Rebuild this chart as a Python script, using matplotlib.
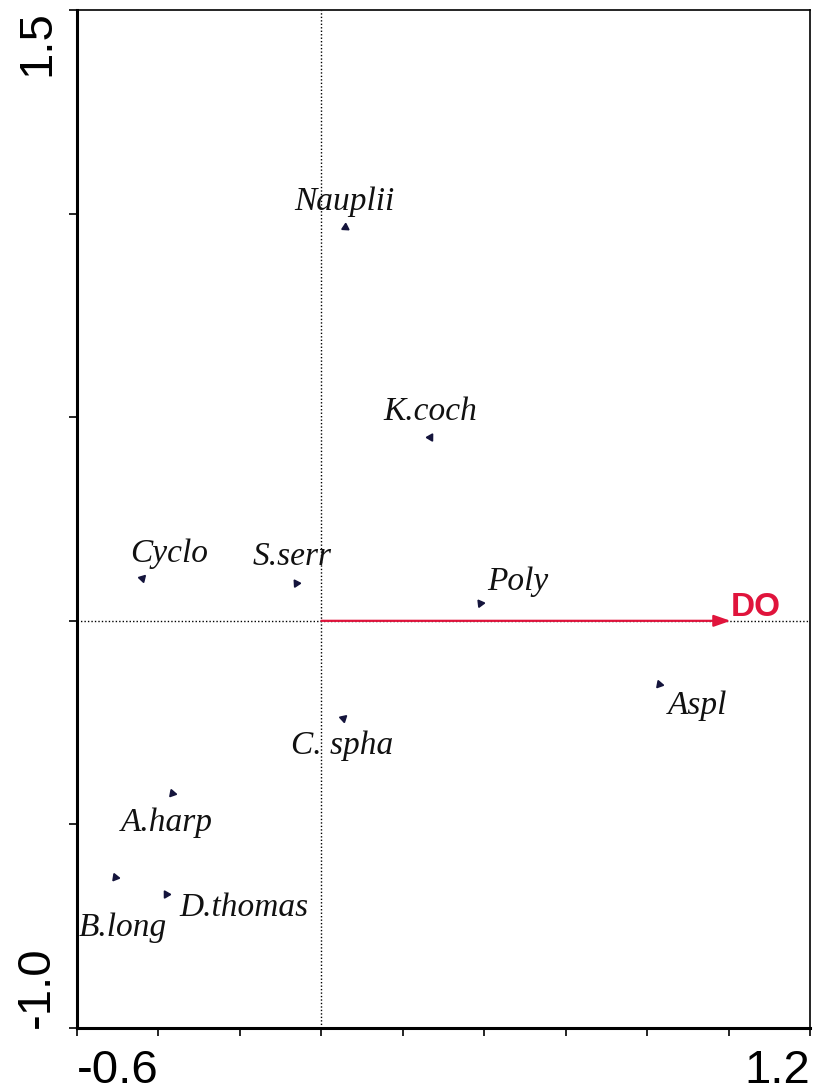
import numpy as np
import matplotlib.pyplot as plt

# Species scores on the first two axes
species = ["Nauplii", "K.coch", "Cyclo", "S.serr", "Poly", "Aspl",
           "C. spha", "A.harp", "B.long", "D.thomas"]
axis1 = [0.057, 0.268, -0.440, -0.061, 0.390, 0.830, 0.052, -0.366, -0.506, -0.381]
axis2 = [0.968, 0.452, 0.106, 0.093, 0.044, -0.155, -0.238, -0.423, -0.629, -0.671]

# Environmental variable
env_name = "DO"
env_x, env_y = 1.005, 0.0

# label offsets (pixels) relative to each species point
offsets = {
    "Nauplii": (0, 25), "K.coch": (0, 25), "Cyclo": (27, 24), "S.serr": (-4, 26),
    "Poly": (38, 21), "Aspl": (38, -22), "C. spha": (0, -28), "A.harp": (-5, -30),
    "B.long": (8, -51), "D.thomas": (78, -14),
}

fig = plt.figure(figsize=(8.13, 10.92), dpi=100)
ax = fig.add_axes([0.0947, 0.0586, 0.9016, 0.9322])

ax.set_xlim(-0.6, 1.2)
ax.set_ylim(-1.0, 1.5)

ax.axvline(0, color="black", lw=1, ls=(0, (1, 1.5)), zorder=1)
ax.axhline(0, color="black", lw=1, ls=(0, (1, 1.5)), zorder=1)

red = "#e0143c"
ax.annotate("", xy=(env_x, env_y), xytext=(0, 0),
            arrowprops=dict(arrowstyle="-|>,head_length=1.0,head_width=0.35",
                            color=red, lw=1.6, shrinkA=0, shrinkB=0), zorder=3)
ax.annotate(env_name, xy=(env_x, env_y), xytext=(0, 13), textcoords="offset pixels",
            color=red, fontsize=24, fontweight="bold", family="Liberation Sans",
            ha="left", va="center", zorder=4)

for name, x, y in zip(species, axis1, axis2):
    ang = np.degrees(np.arctan2(y, x)) - 90
    ax.plot(x, y, marker=(3, 0, ang), ms=6, color="#14143c", zorder=3)
    dx, dy = offsets[name]
    ax.annotate(name, xy=(x, y), xytext=(dx, dy), textcoords="offset pixels",
                ha="center", va="center", fontsize=24, style="italic",
                family="Liberation Serif", color="#111111")

# ticks: only the ends are labelled
xt = np.round(np.arange(-0.6, 1.21, 0.2), 1)
ax.set_xticks(xt)
ax.set_xticklabels(["-0.6"] + [""] * (len(xt) - 2) + ["1.2"])
yt = np.arange(-1.0, 1.51, 0.5)
ax.set_yticks(yt)
ax.set_yticklabels(["-1.0"] + [""] * (len(yt) - 2) + ["1.5"], rotation=90)

ax.tick_params(direction="out", length=6, width=1.2, labelsize=34)
ax.tick_params(axis="x", pad=9)
ax.tick_params(axis="y", pad=7)
for lab in ax.get_xticklabels():
    lab.set_family("Liberation Sans")
ax.get_xticklabels()[0].set_ha("left")
ax.get_xticklabels()[-1].set_ha("right")
for lab in ax.get_yticklabels():
    lab.set_family("Liberation Sans")
ax.get_yticklabels()[0].set_va("bottom")
ax.get_yticklabels()[-1].set_va("top")

ax.spines["left"].set_linewidth(2.2)
ax.spines["bottom"].set_linewidth(2.2)
ax.spines["top"].set_linewidth(1.2)
ax.spines["right"].set_linewidth(1.2)

fig.savefig("out.png", dpi=100)
